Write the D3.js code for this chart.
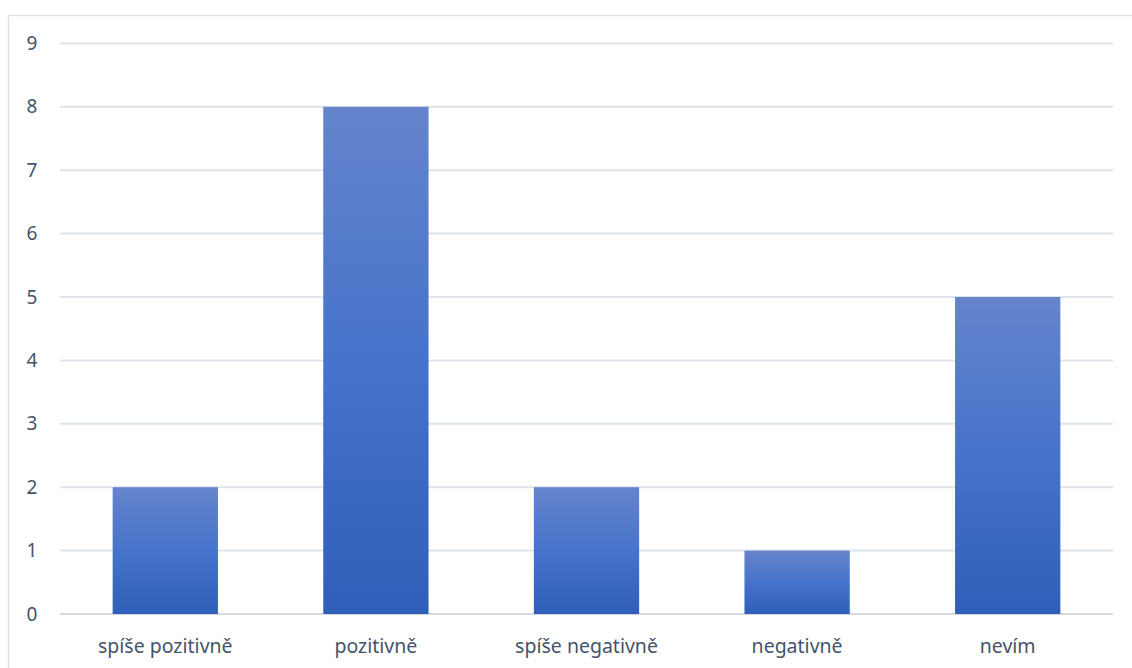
<!DOCTYPE html>
<html>
<head>
<meta charset="utf-8" />
<title>Chart</title>
<script src="https://cdn.jsdelivr.net/npm/d3@7"></script>
<style>
    html, body { margin: 0; padding: 0; background: #fff; }
    text { font-family: "Noto Sans", "Open Sans", sans-serif; fill: #44546a; }
</style>
</head>
<body>
<script>
    // data
    var categories = ['spíše pozitivně', 'pozitivně', 'spíše negativně', 'negativně', 'nevím'];
    var values = [2, 8, 2, 1, 5];
    var yTicks = [0, 1, 2, 3, 4, 5, 6, 7, 8, 9];

    var width = 1132, height = 668;
    var svg = d3.select('body').append('svg').attr('width', width).attr('height', height);

    // chart frame
    svg.append('rect').attr('x', 8.5).attr('y', 15.5).attr('width', 1140).attr('height', 700)
        .attr('fill', 'none').attr('stroke', '#dfe2e7').attr('stroke-width', 1.5);

    var x = d3.scaleBand().domain(categories).range([60, 1113]).paddingInner(0.5).paddingOuter(0.25);
    var y = d3.scaleLinear().domain([0, 9]).range([614, 43.4]);

    var grad = svg.append('defs').append('linearGradient').attr('id', 'barGrad')
        .attr('x1', 0).attr('y1', 0).attr('x2', 0).attr('y2', 1);
    grad.append('stop').attr('offset', '0%').attr('stop-color', '#6584cc');
    grad.append('stop').attr('offset', '50%').attr('stop-color', '#4673cb');
    grad.append('stop').attr('offset', '100%').attr('stop-color', '#2f5fb8');

    // gridlines
    svg.append('g').selectAll('line').data(yTicks).enter().append('line')
        .attr('x1', 60).attr('x2', 1113)
        .attr('y1', function(d){ return y(d); }).attr('y2', function(d){ return y(d); })
        .attr('stroke', function(d){ return d === 0 ? '#d6d9de' : '#dfe3ea'; })
        .attr('stroke-width', 2);

    // y labels
    svg.append('g').selectAll('text').data(yTicks).enter().append('text')
        .attr('x', 32).attr('y', function(d){ return y(d); }).attr('dy', '0.35em')
        .attr('text-anchor', 'middle').style('font-size', '19px')
        .text(function(d){ return d; });

    // bars
    svg.append('g').selectAll('rect').data(values).enter().append('rect')
        .attr('x', function(d, i){ return x(categories[i]); })
        .attr('y', function(d){ return y(d); })
        .attr('width', x.bandwidth())
        .attr('height', function(d){ return y(0) - y(d); })
        .attr('fill', 'url(#barGrad)');

    // x labels
    svg.append('g').selectAll('text').data(categories).enter().append('text')
        .attr('x', function(d){ return x(d) + x.bandwidth() / 2; })
        .attr('y', 646).attr('dy', '0.35em')
        .attr('text-anchor', 'middle').style('font-size', '19.5px')
        .text(function(d){ return d; });
</script>
</body>
</html>
